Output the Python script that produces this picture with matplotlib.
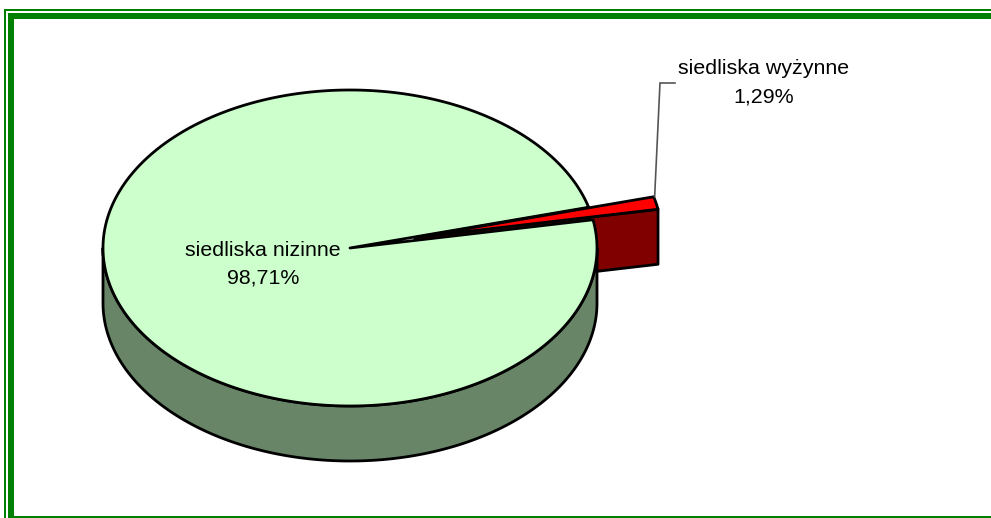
import numpy as np
import matplotlib
matplotlib.use("Agg")
import matplotlib.pyplot as plt
from matplotlib.patches import Polygon, Rectangle

categories = ["siedliska nizinne", "siedliska wyżynne"]
shares = [98.71, 1.29]
value_labels = ["98,71%", "1,29%"]

plt.rcParams["font.family"] = ["Liberation Sans", "DejaVu Sans"]
W, H = 991, 518
fig = plt.figure(figsize=(W / 100, H / 100), dpi=100, facecolor="white")
ax = fig.add_axes([0, 0, 1, 1])
ax.set_xlim(0, W)
ax.set_ylim(H, 0)
ax.axis("off")

GREEN = "#008000"
for x, y, w, h in [(4, 9, W, 2), (4, 9, 2, H), (8, 13, W, 6), (8, 13, 6, H), (8, 516, W, 2)]:
    ax.add_patch(Rectangle((x, y), w, h, fc=GREEN, ec="none", zorder=1, antialiased=False))

cx, cy, a, b, depth = 350, 248, 247, 158, 55
first_angle = 10.3
sweep = 360 * shares[1] / sum(shares)
t0, t1 = np.radians(first_angle), np.radians(first_angle + sweep)
offset = np.array([65.0, -10.5])


def rim(t):
    return np.column_stack([cx + a * np.cos(t), cy - b * np.sin(t)])


lw = 2.0
# exploded slice: side wall
tip_low = rim(np.array([t0]))[0] + offset
tip_up = rim(np.array([t1]))[0] + offset
apex = np.array([cx, cy]) + offset
wall = np.array([apex, tip_low, tip_low + [0, depth], apex + [0, depth]])
ax.add_patch(Polygon(wall, closed=True, fc="#800000", ec="black", lw=lw, joinstyle="round", zorder=2))

# main slice: side wall
tb = np.linspace(np.pi, 2 * np.pi, 200)
lower = rim(tb)
side = np.vstack([lower[0], lower + [0, depth], lower[-1], lower[::-1]])
ax.add_patch(Polygon(side, closed=True, fc="#688568", ec="black", lw=lw, joinstyle="round", zorder=3))

# main slice: top face
tt = np.linspace(t1, t0 + 2 * np.pi, 600)
top = np.vstack([[cx, cy], rim(tt)])
ax.add_patch(Polygon(top, closed=True, fc="#CCFFCC", ec="black", lw=lw, joinstyle="round", zorder=4))

# exploded slice: top face
ts = np.linspace(t0, t1, 20)
red = np.vstack([apex, rim(ts) + offset])
ax.add_patch(Polygon(red, closed=True, fc="#FF0000", ec="black", lw=lw, joinstyle="round", zorder=5))

# leader line
ax.plot([tip_up[0] + 1, 660, 675], [tip_up[1], 83, 83], color="#555555", lw=1.2, zorder=6, solid_joinstyle="miter")

fs = 15.4
ax.text(263, 250, categories[0], ha="center", va="center", fontsize=fs, color="black", zorder=7)
ax.text(263, 278, value_labels[0], ha="center", va="center", fontsize=fs, color="black", zorder=7)
ax.text(764, 68, categories[1], ha="center", va="center", fontsize=fs, color="black", zorder=7)
ax.text(764, 97, value_labels[1], ha="center", va="center", fontsize=fs, color="black", zorder=7)

fig.savefig("out.png", dpi=100, facecolor="white")
